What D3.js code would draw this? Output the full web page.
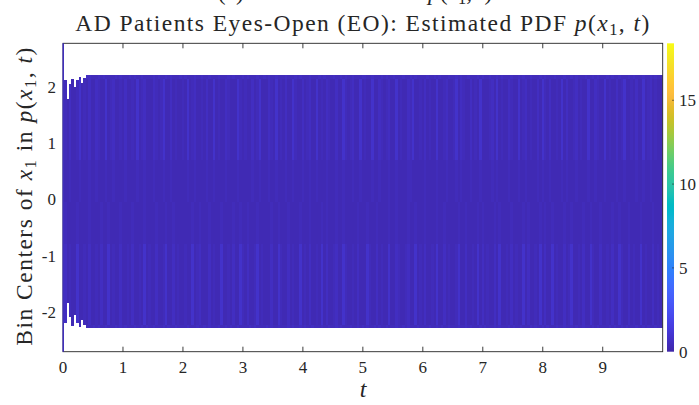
<!DOCTYPE html>
<html><head><meta charset="utf-8">
<script src="https://cdn.jsdelivr.net/npm/d3@7"></script>
<style>
body{margin:0;background:#fff}
svg{display:block}
text{fill:#262626}
</style>
</head><body>
<svg id="chart" width="699" height="405"></svg>
<script>
// ---------- data ----------
const xTickValues = [0,1,2,3,4,5,6,7,8,9];
const yTickValues = [2,1,0,-1,-2];
const yTickLabels = ["2","1","0","-1","-2"];
const cbTickValues = [0,5,10,15];
const tLimits = [0,10];
const x1Limits = [-2.71,2.78];
const colorMax = 18.4;

// first (t = 0) column covers the whole bin range
const firstColumn = {t0:0, t1:0.02, value:0.7};
// remaining time columns
const timeStart = 0.02;
const timeStep = 0.04;
// bin-row edges (top to bottom) in x1 units
const rowEdges = [2.21, 2.15, 0.71, -0.04, -0.79, -2.23, -2.29];
// density level codes -> estimated pdf values
const levelValues = [0.3, 0.45, 0.62, 0.85];
const levelRows = [
 "1211121112211121211112121"+"1121211211112121121211121"+"2111211211211121112121112"+"1211121121211211121112121"+"1121112121112112121121112"+"2112111212112111211212111"+"1211212111211212112111212"+"1121121211121121211211121"+"2111211121121211121121211"+"1212112111212111211212112",
 "1020013010200210030120010"+"2001030120002101300201001"+"0301200102003010021000310"+"1002013000210301020031002"+"0120030102100200310120030"+"1003002101200301002130010"+"2010030012001302100201030"+"0012030100210030120100203"+"1020010302001201003002100"+"3010020130010200301201002",
 "0010001000100100010010000"+"1000010010001000100100000"+"0100100001001000010000100"+"0001001000100100010010001"+"0010010001000100100010010"+"0001001000100100001100000"+"1000010001000101000100010"+"0001010000100010010000101"+"0010000101000100001001000"+"1000010010000100100100001",
 "1000010000100001001000010"+"0001000010000100010010000"+"0001001000100001000010010"+"0100010000010010001000010"+"0010000101000100100000100"+"0100010000100100001001000"+"1000010010000010010000101"+"0000101000010000101000010"+"1001000010010000100100010"+"0001001000100001000010001",
 "2010030010200102003010020"+"0102001030100200130020100"+"1003012000201003001020031"+"0200130100020031002010030"+"1020010302001200310010200"+"0310020100300210012003010"+"2001030020100130020010302"+"0100203001020100302001030"+"2003010020130010200310020"+"0102003100201003010020103",
 "1112121121112121121112121"+"2111211212112111212112111"+"1211121121211121121211211"+"1121211112121121112121121"+"2112111211211212111211212"+"1211212112111211212111211"+"1121121211211121121211121"+"2111212111212112111212112"+"1211121121121211211121211"+"1121211212111211212112111"
];
// ragged band limits over the first time columns
const earlyTop    = [2.12, 1.78, 2.05, 2.15, 2.00, 2.12, 2.18, 2.08, 2.16];
const earlyBottom = [-2.20, -1.85, -2.10, -2.25, -2.05, -2.20, -2.27, -2.15, -2.24];

// parula colormap
const parula = ["#3e26a8","#402ab4","#422ec0","#4332cb","#4537d5","#463cde","#4741e5","#4747eb","#484df0","#4852f4","#4758f8","#465efb","#4563fd","#4269fe","#3e6fff","#3875fe","#327cfc","#2f81fa","#2e87f7","#2d8cf3","#2b91ef","#2797eb","#259be8","#23a0e5","#20a5e3","#1ca9df","#18addb","#12b1d6","#08b5d0","#01b8ca","#02bac3","#0bbdbd","#19bfb6","#24c1ae","#2cc4a7","#31c69f","#37c897","#3fca8e","#4acb84","#57cc7a","#64cd6f","#72cd64","#81cc59","#8fcb4e","#9dc943","#abc739","#b9c431","#c5c22a","#d1bf27","#dcbd29","#e6bb2d","#f0ba36","#f8ba3d","#febe3c","#fec338","#fec934","#fccf30","#fad62d","#f7dc2a","#f5e327","#f5e924","#f6ef20","#f7f51b","#f9fb15"];

// ---------- layout ----------
const plot = {left:63, right:662.7, top:43.3, bottom:351.7};
const cb = {left:667, right:674};
const axisColor = "#262626";
const FONT = "'Liberation Serif', 'DejaVu Serif', 'Noto Serif', Tinos, 'Nimbus Roman', FreeSerif, Times, 'Times New Roman', serif";

const svg = d3.select("#chart");
const x = d3.scaleLinear().domain(tLimits).range([plot.left, plot.right]);
const y = d3.scaleLinear().domain(x1Limits).range([plot.bottom, plot.top]);
const color = d3.scaleSequential(d3.piecewise(d3.interpolateRgb, parula)).domain([0, colorMax]);
const cy = d3.scaleLinear().domain([0, colorMax]).range([plot.bottom, plot.top]);

svg.append("defs").append("clipPath").attr("id","clip")
  .append("rect").attr("x",plot.left).attr("y",plot.top)
  .attr("width",plot.right-plot.left).attr("height",plot.bottom-plot.top);

// heatmap cells
const cells = [];
levelRows.forEach((row, r)=>{
  for(let i=0;i<row.length;i++){
    const t0 = timeStart + i*timeStep, t1 = t0 + timeStep;
    let top = rowEdges[r], bot = rowEdges[r+1];
    if(i < earlyTop.length){ top = Math.min(top, earlyTop[i]); bot = Math.max(bot, earlyBottom[i]); }
    if(top <= bot) continue;
    cells.push({t0, t1, top, bot, value: levelValues[+row[i]]});
  }
});
cells.push({t0:firstColumn.t0, t1:firstColumn.t1, top:x1Limits[1], bot:x1Limits[0], value:firstColumn.value});

svg.append("g").attr("clip-path","url(#clip)").selectAll("rect").data(cells).join("rect")
  .attr("x", d=>x(d.t0)).attr("width", d=>x(d.t1)-x(d.t0))
  .attr("y", d=>y(d.top)).attr("height", d=>y(d.bot)-y(d.top))
  .attr("fill", d=>color(d.value)).attr("shape-rendering","crispEdges");

// axes box
svg.append("rect").attr("x",plot.left).attr("y",plot.top)
  .attr("width",plot.right-plot.left).attr("height",plot.bottom-plot.top)
  .attr("fill","none").attr("stroke",axisColor).attr("stroke-width",0.9);
svg.append("rect").attr("x",x(firstColumn.t0)-0.5).attr("width",1.4)
  .attr("y",y(x1Limits[1])).attr("height",y(x1Limits[0])-y(x1Limits[1]))
  .attr("fill",color(firstColumn.value));

// x ticks top & bottom
xTickValues.forEach(v=>{
  if(v===0) return;
  svg.append("line").attr("x1",x(v)).attr("x2",x(v)).attr("y1",plot.bottom).attr("y2",plot.bottom-5).attr("stroke",axisColor).attr("stroke-width",0.9);
  svg.append("line").attr("x1",x(v)).attr("x2",x(v)).attr("y1",plot.top).attr("y2",plot.top+5).attr("stroke",axisColor).attr("stroke-width",0.9);
});
// x tick labels
svg.append("g").selectAll("text").data(xTickValues).join("text")
  .style("font-family",FONT)
  .attr("x",d=>x(d)).attr("y",373).attr("text-anchor","middle").attr("font-size",17).text(d=>d);
// y tick labels
svg.append("g").selectAll("text").data(yTickValues).join("text")
  .style("font-family",FONT)
  .attr("x",56).attr("y",d=>y(d)).attr("dy","0.35em").attr("text-anchor","end").attr("font-size",17)
  .text((d,i)=>yTickLabels[i]);

// colorbar
const grad = svg.select("defs").append("linearGradient").attr("id","cbgrad")
  .attr("x1",0).attr("y1",1).attr("x2",0).attr("y2",0);
parula.forEach((c,i)=>grad.append("stop").attr("offset",i/(parula.length-1)).attr("stop-color",c));
svg.append("rect").attr("x",cb.left).attr("y",cy(colorMax)).attr("width",cb.right-cb.left)
  .attr("height",cy(0)-cy(colorMax)).attr("fill","url(#cbgrad)");
cbTickValues.forEach(v=>{
  if(v>0) svg.append("line").attr("x1",cb.right).attr("x2",cb.right-2).attr("y1",cy(v)).attr("y2",cy(v)).attr("stroke",axisColor).attr("stroke-width",0.6);
});
svg.append("g").selectAll("text").data(cbTickValues).join("text")
  .style("font-family",FONT)
  .attr("x",679).attr("y",d=>cy(d)).attr("dy","0.35em").attr("font-size",17).text(d=>d);

function addMath(sel, parts){
  let shifted=false;
  parts.forEach(p=>{
    const ts = sel.append("tspan").text(p.t);
    if(p.i) ts.attr("font-style","italic");
    if(p.sub){ ts.attr("font-size","0.7em").attr("dy","4"); shifted=true; }
    else if(shifted){ ts.attr("dy","-4"); shifted=false; }
  });
}
function fitWidth(sel, target){
  const node = sel.node();
  const w = node.getComputedTextLength();
  const n = node.textContent.length;
  if(n>1) sel.attr("letter-spacing", ((target-w)/(n-1)).toFixed(3));
}

// clipped first title line (only its lowest parts fall inside the page)
const t1 = svg.append("text").style("font-family",FONT).attr("x",355).attr("y",0).attr("text-anchor","middle").attr("font-size",23.5);
addMath(t1, [{t:"(a) Time Evolution of "},{t:"p",i:1},{t:"("},{t:"x",i:1},{t:"1",sub:1},{t:", "},{t:"t",i:1},{t:")"}]);
// title
const t2 = svg.append("text").style("font-family",FONT).attr("x",363).attr("y",31).attr("text-anchor","middle").attr("font-size",23.5);
addMath(t2, [{t:"AD Patients Eyes-Open (EO): Estimated PDF "},{t:"p",i:1},{t:"("},{t:"x",i:1},{t:"1",sub:1},{t:", "},{t:"t",i:1},{t:")"}]);
fitWidth(t2, 574);

// x label
svg.append("text").style("font-family",FONT).attr("x",363).attr("y",397).attr("text-anchor","middle").attr("font-size",24)
  .attr("font-style","italic").text("t");

// y label
const yl = svg.append("text").style("font-family",FONT).attr("transform","translate(32,196) rotate(-90)").attr("text-anchor","middle").attr("font-size",23.5);
addMath(yl, [{t:"Bin Centers of "},{t:"x",i:1},{t:"1",sub:1},{t:" in "},{t:"p",i:1},{t:"("},{t:"x",i:1},{t:"1",sub:1},{t:", "},{t:"t",i:1},{t:")"}]);
fitWidth(yl, 298);
</script>
</body></html>
